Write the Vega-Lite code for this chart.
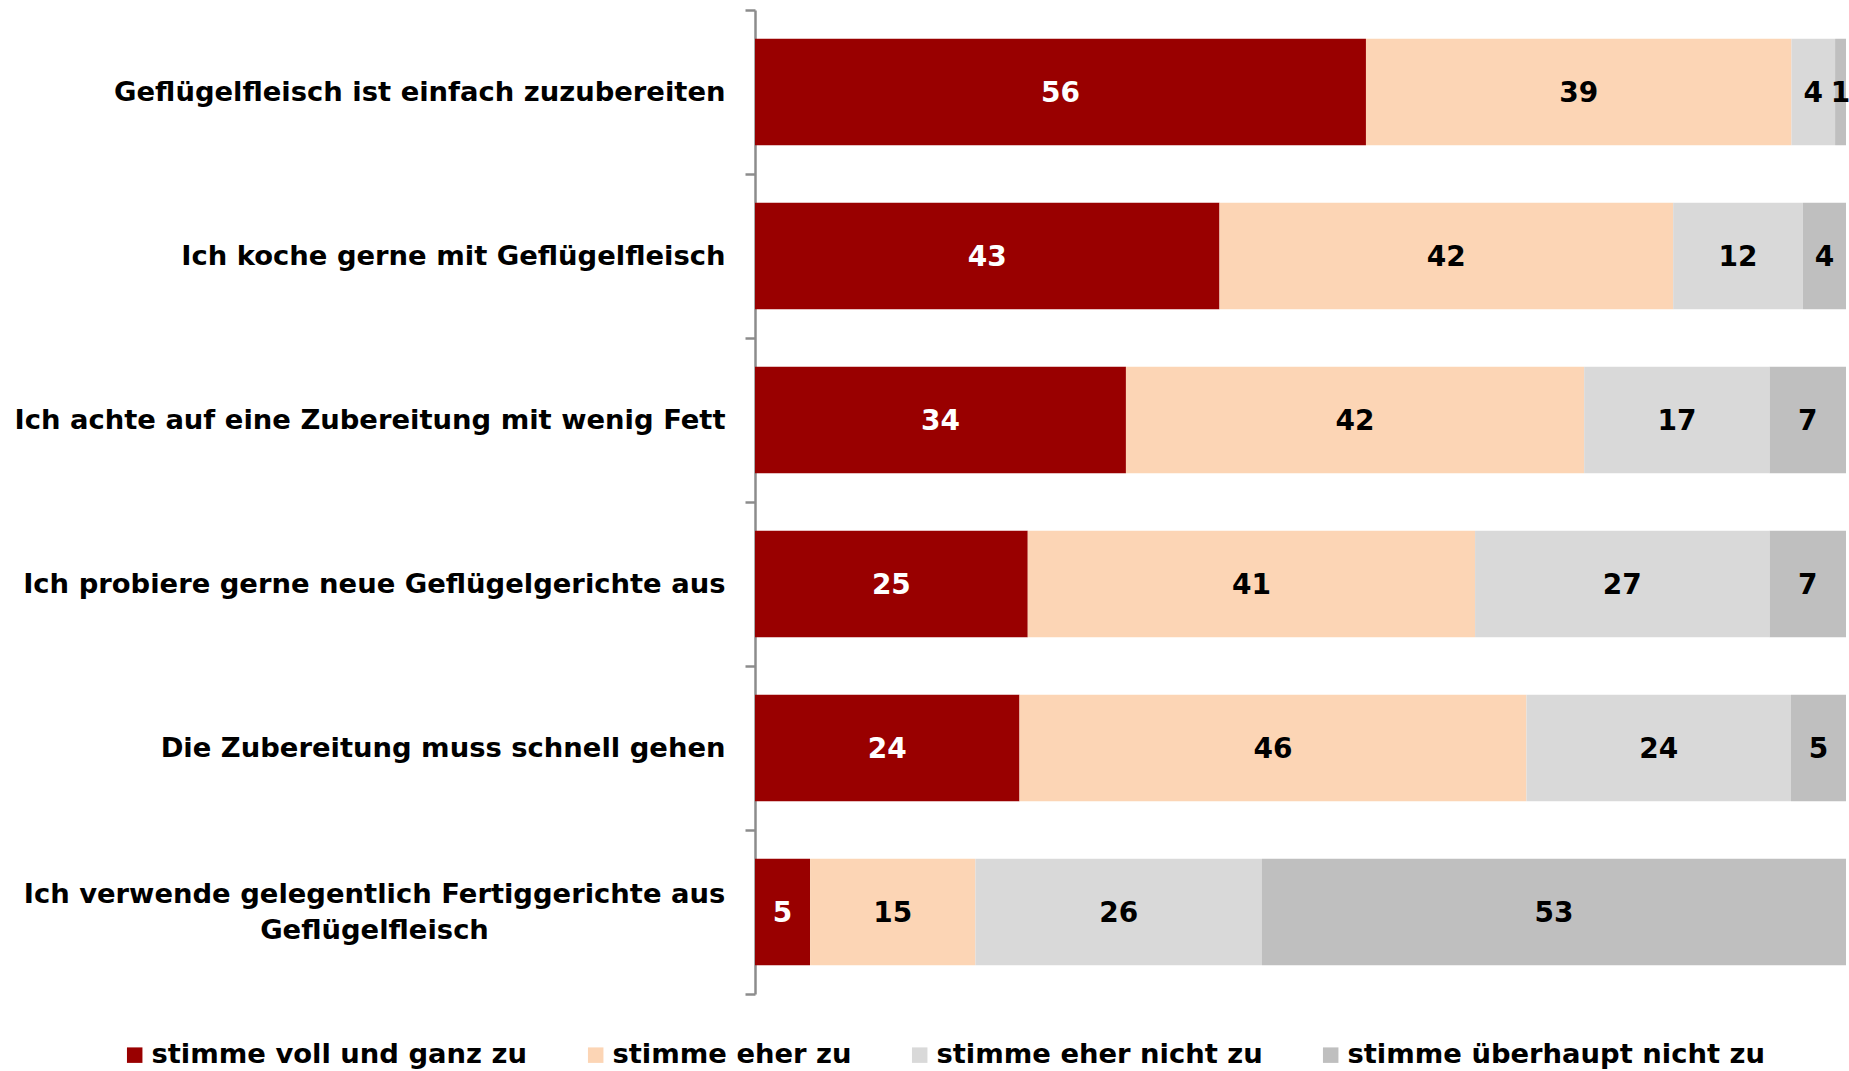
{
  "$schema": "https://vega.github.io/schema/vega-lite/v6.json",
  "width": 1091,
  "height": 984,
  "autosize": {"type": "none"},
  "padding": {"left": 755, "top": 10, "right": 3, "bottom": 77},
  "background": "white",
  "data": {
    "values": [
      {"q": "Geflügelfleisch ist einfach zuzubereiten", "cat": "stimme voll und ganz zu", "k": 1, "v": 56},
      {"q": "Geflügelfleisch ist einfach zuzubereiten", "cat": "stimme eher zu", "k": 2, "v": 39},
      {"q": "Geflügelfleisch ist einfach zuzubereiten", "cat": "stimme eher nicht zu", "k": 3, "v": 4},
      {"q": "Geflügelfleisch ist einfach zuzubereiten", "cat": "stimme überhaupt nicht zu", "k": 4, "v": 1},
      {"q": "Ich koche gerne mit Geflügelfleisch", "cat": "stimme voll und ganz zu", "k": 1, "v": 43},
      {"q": "Ich koche gerne mit Geflügelfleisch", "cat": "stimme eher zu", "k": 2, "v": 42},
      {"q": "Ich koche gerne mit Geflügelfleisch", "cat": "stimme eher nicht zu", "k": 3, "v": 12},
      {"q": "Ich koche gerne mit Geflügelfleisch", "cat": "stimme überhaupt nicht zu", "k": 4, "v": 4},
      {"q": "Ich achte auf eine Zubereitung mit wenig Fett", "cat": "stimme voll und ganz zu", "k": 1, "v": 34},
      {"q": "Ich achte auf eine Zubereitung mit wenig Fett", "cat": "stimme eher zu", "k": 2, "v": 42},
      {"q": "Ich achte auf eine Zubereitung mit wenig Fett", "cat": "stimme eher nicht zu", "k": 3, "v": 17},
      {"q": "Ich achte auf eine Zubereitung mit wenig Fett", "cat": "stimme überhaupt nicht zu", "k": 4, "v": 7},
      {"q": "Ich probiere gerne neue Geflügelgerichte aus", "cat": "stimme voll und ganz zu", "k": 1, "v": 25},
      {"q": "Ich probiere gerne neue Geflügelgerichte aus", "cat": "stimme eher zu", "k": 2, "v": 41},
      {"q": "Ich probiere gerne neue Geflügelgerichte aus", "cat": "stimme eher nicht zu", "k": 3, "v": 27},
      {"q": "Ich probiere gerne neue Geflügelgerichte aus", "cat": "stimme überhaupt nicht zu", "k": 4, "v": 7},
      {"q": "Die Zubereitung muss schnell gehen", "cat": "stimme voll und ganz zu", "k": 1, "v": 24},
      {"q": "Die Zubereitung muss schnell gehen", "cat": "stimme eher zu", "k": 2, "v": 46},
      {"q": "Die Zubereitung muss schnell gehen", "cat": "stimme eher nicht zu", "k": 3, "v": 24},
      {"q": "Die Zubereitung muss schnell gehen", "cat": "stimme überhaupt nicht zu", "k": 4, "v": 5},
      {"q": "Ich verwende gelegentlich Fertiggerichte aus Geflügelfleisch", "cat": "stimme voll und ganz zu", "k": 1, "v": 5},
      {"q": "Ich verwende gelegentlich Fertiggerichte aus Geflügelfleisch", "cat": "stimme eher zu", "k": 2, "v": 15},
      {"q": "Ich verwende gelegentlich Fertiggerichte aus Geflügelfleisch", "cat": "stimme eher nicht zu", "k": 3, "v": 26},
      {"q": "Ich verwende gelegentlich Fertiggerichte aus Geflügelfleisch", "cat": "stimme überhaupt nicht zu", "k": 4, "v": 53}
    ]
  },
  "transform": [
    {"stack": "v", "groupby": ["q"], "sort": [{"field": "k", "order": "ascending"}], "offset": "normalize", "as": ["x0", "x1"]},
    {"calculate": "(datum.x0 + datum.x1) / 2", "as": "xm"}
  ],
  "encoding": {
    "y": {
      "field": "q",
      "type": "nominal",
      "sort": null,
      "title": null,
      "scale": {"paddingInner": 0, "paddingOuter": 0},
      "axis": {
        "orient": "left",
        "domain": true,
        "domainColor": "#8c8c8c",
        "domainWidth": 2.5,
        "ticks": true,
        "tickBand": "extent",
        "tickSize": 10,
        "tickColor": "#8c8c8c",
        "tickWidth": 2.5,
        "labelFont": "DejaVu Sans",
        "labelFontWeight": "bold",
        "labelFontSize": 27.4,
        "labelColor": "black",
        "labelLimit": 0,
        "labelLineHeight": 36,
        "labelAlign": {"condition": {"test": "datum.value == 'Ich verwende gelegentlich Fertiggerichte aus Geflügelfleisch'", "value": "center"}, "value": "right"},
        "labelPadding": {"condition": {"test": "datum.value == 'Ich verwende gelegentlich Fertiggerichte aus Geflügelfleisch'", "value": 371}, "value": 20},
        "labelOffset": {"condition": {"test": "datum.value == 'Ich verwende gelegentlich Fertiggerichte aus Geflügelfleisch'", "value": -18}, "value": 0},
        "labelExpr": "datum.value == 'Ich verwende gelegentlich Fertiggerichte aus Geflügelfleisch' ? ['Ich verwende gelegentlich Fertiggerichte aus', 'Geflügelfleisch'] : datum.value",
        "grid": false
      }
    }
  },
  "layer": [
    {
      "mark": {"type": "bar", "strokeWidth": 0, "height": {"band": 0.65}},
      "encoding": {
        "x": {"field": "x0", "type": "quantitative", "scale": {"domain": [0, 1], "nice": false, "zero": true}, "axis": null},
        "x2": {"field": "x1"},
        "color": {
          "field": "cat",
          "type": "nominal",
          "title": null,
          "scale": {
            "domain": ["stimme voll und ganz zu", "stimme eher zu", "stimme eher nicht zu", "stimme überhaupt nicht zu"],
            "range": ["#990000", "#FCD5B5", "#D9D9D9", "#BFBFBF"]
          },
          "legend": {
            "orient": "none",
            "direction": "horizontal",
            "legendX": -634,
            "legendY": 1031,
            "padding": 0,
            "symbolType": "square",
            "symbolSize": 240,
            "symbolStrokeWidth": 0,
            "symbolOpacity": 1,
            "labelFont": "DejaVu Sans",
            "labelFontWeight": "bold",
            "labelFontSize": 27.4,
            "labelColor": "black",
            "labelOffset": 3,
            "labelLimit": 0,
            "columnPadding": 54
          }
        }
      }
    },
    {
      "mark": {"type": "text", "font": "DejaVu Sans", "fontWeight": "bold", "fontSize": 28, "baseline": "middle", "align": "center", "dy": 2},
      "encoding": {
        "x": {"field": "xm", "type": "quantitative"},
        "text": {"field": "v", "type": "quantitative"},
        "color": {"condition": {"test": "datum.cat === 'stimme voll und ganz zu'", "value": "white"}, "value": "black"}
      }
    }
  ],
  "config": {"view": {"stroke": null}}
}
